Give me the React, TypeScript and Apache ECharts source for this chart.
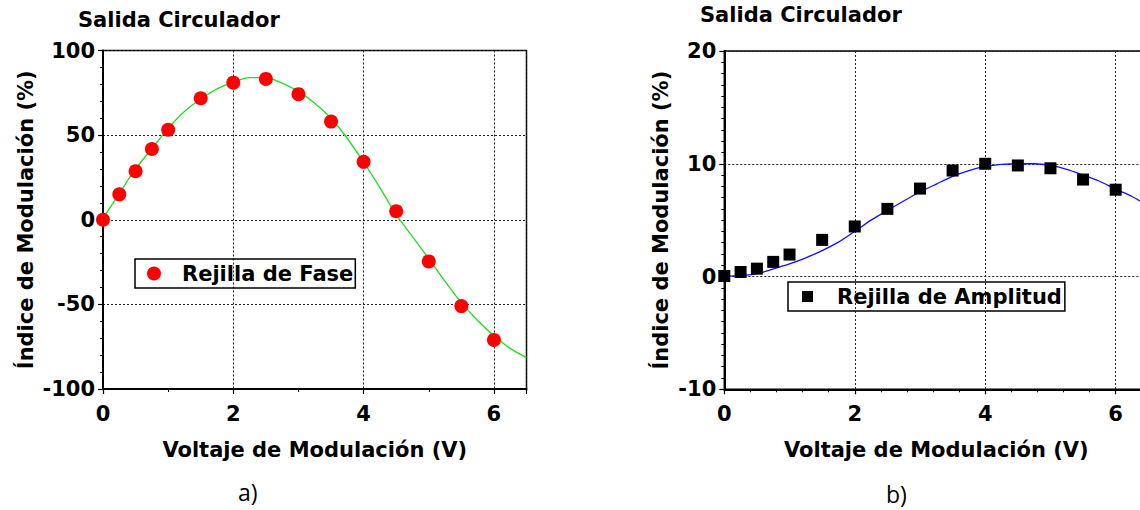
import { useEffect, useRef } from "react";
import * as echarts from "echarts";

// ---- data ----
const titleText = "Salida Circulador";
const xAxisName = "Voltaje de Modulación (V)";
const yAxisName = "Índice de Modulación (%)";
const phaseLegend = "Rejilla de Fase";
const ampLegend = "Rejilla de Amplitud";

// a) phase grating: measured points
const phaseVolt = [0, 0.25, 0.5, 0.75, 1, 1.5, 2, 2.5, 3, 3.5, 4, 4.5, 5, 5.5, 6];
const phaseIndex = [0, 15, 28.7, 41.8, 53.2, 71.8, 81, 83.2, 74.2, 58, 34.2, 5, -24.6, -51, -71];
// a) fitted curve (green)
const phaseFitVolt = [0, 0.25, 0.5, 0.75, 1, 1.25, 1.5, 1.75, 2, 2.25, 2.5, 2.75, 3, 3.25, 3.5, 3.75, 4, 4.25, 4.5, 4.75, 5, 5.25, 5.5, 5.75, 6, 6.25, 6.5];
const phaseFit = [0.8, 15.5, 30, 42, 54, 64, 71.3, 77.3, 81.3, 84, 84, 80.7, 75.7, 68.9, 60, 48, 34, 19, 3, -10, -23, -36.4, -49, -59.5, -68.5, -76, -81.5];

// b) amplitude grating: measured points
const ampVolt = [0, 0.25, 0.5, 0.75, 1, 1.5, 2, 2.5, 3, 3.5, 4, 4.5, 5, 5.5, 6];
const ampIndex = [0.05, 0.4, 0.7, 1.3, 1.95, 3.25, 4.44, 6.0, 7.8, 9.4, 10.0, 9.85, 9.6, 8.6, 7.7];
// b) fitted curve (blue)
const ampFitVolt = [0, 0.25, 0.5, 0.75, 1, 1.25, 1.5, 1.75, 2, 2.25, 2.5, 2.75, 3, 3.25, 3.5, 3.75, 4, 4.25, 4.5, 4.75, 5, 5.25, 5.5, 5.75, 6, 6.25, 6.4];
const ampFit = [0, 0.1, 0.24, 0.68, 1.12, 1.66, 2.3, 3.05, 4.0, 5.0, 5.86, 6.7, 7.5, 8.2, 8.88, 9.4, 9.76, 9.94, 10.0, 10.0, 9.85, 9.5, 9.0, 8.45, 7.75, 7.1, 6.6];

// axis ranges / ticks
const xRange = { min: 0, max: 6.5, interval: 2 };
const yRangeA = { min: -100, max: 100, interval: 50 };
const yRangeB = { min: -10, max: 20, interval: 10 };

const pairs = (xs: number[], ys: number[]) => xs.map((x, i) => [x, ys[i]]);

const FONT = "DejaVu Sans";
const boldText = { fontFamily: FONT, fontWeight: "bold" as const, fontSize: 21, color: "#000" };

function xAxisFor(gridIndex: number, minorSplit: number) {
  return {
    type: "value",
    gridIndex,
    min: xRange.min,
    max: xRange.max,
    interval: xRange.interval,
    name: xAxisName,
    nameLocation: "middle",
    nameGap: 50,
    nameTextStyle: { ...boldText },
    axisLine: { show: true, onZero: false, lineStyle: { color: "#000", width: 2 } },
    axisTick: { show: true, inside: false, length: 5, lineStyle: { color: "#000", width: 1.2 } },
    minorTick: { show: true, splitNumber: minorSplit, length: 3, lineStyle: { color: "#000", width: 1 } },
    axisLabel: { ...boldText, margin: 14, showMaxLabel: false },
    splitLine: { show: true, lineStyle: { color: "#222", width: 1, type: [2, 2] } },
  };
}

function yAxisFor(gridIndex: number, range: { min: number; max: number; interval: number }, minorSplit: number, nameGap: number) {
  return {
    type: "value",
    gridIndex,
    min: range.min,
    max: range.max,
    interval: range.interval,
    name: yAxisName,
    nameLocation: "middle",
    nameGap,
    nameTextStyle: { ...boldText },
    axisLine: { show: true, onZero: false, lineStyle: { color: "#000", width: 2 } },
    axisTick: { show: true, inside: false, length: 5, lineStyle: { color: "#000", width: 1.2 } },
    minorTick: { show: true, splitNumber: minorSplit, length: 3, lineStyle: { color: "#000", width: 1 } },
    axisLabel: { ...boldText, margin: 8 },
    splitLine: { show: true, lineStyle: { color: "#222", width: 1, type: [2, 2] } },
  };
}

export default function App() {
  const ref = useRef<HTMLDivElement>(null);
  useEffect(() => {
    if (!ref.current) return;
    const chart = echarts.init(ref.current, undefined, { renderer: "svg" });
    chart.setOption({
      animation: false,
      backgroundColor: "#fff",
      title: [
        { text: titleText, left: 78, top: 9, padding: 0, textStyle: { ...boldText } },
        { text: titleText, left: 700, top: 4, padding: 0, textStyle: { ...boldText } },
        { text: "a)", left: 238, top: 480, padding: 0, textStyle: { fontFamily: "Open Sans", fontWeight: "normal", fontSize: 23, color: "#000" } },
        { text: "b)", left: 886, top: 482, padding: 0, textStyle: { fontFamily: "Open Sans", fontWeight: "normal", fontSize: 23, color: "#000" } },
      ],
      grid: [
        { left: 103, top: 50.5, width: 423.5, height: 338.5, show: true, borderColor: "#000", borderWidth: 1.5, backgroundColor: "transparent" },
        { left: 724.3, top: 51, width: 424, height: 338.3, show: true, borderColor: "#000", borderWidth: 1.5, backgroundColor: "transparent" },
      ],
      xAxis: [xAxisFor(0, 2), xAxisFor(1, 5)],
      yAxis: [yAxisFor(0, yRangeA, 5, 67), yAxisFor(1, yRangeB, 10, 53)],
      legend: [
        {
          data: [phaseLegend],
          left: 135,
          top: 259,
          icon: "circle",
          itemWidth: 14,
          itemHeight: 14,
          padding: [4, 2, 4, 12],
          borderColor: "#000",
          borderWidth: 1.5,
          itemStyle: { opacity: 1 },
          textStyle: { ...boldText, padding: [0, 0, 0, 16] },
        },
        {
          data: [ampLegend],
          left: 788,
          top: 282,
          icon: "rect",
          itemWidth: 11,
          itemHeight: 11,
          padding: [4, 3, 4, 14],
          borderColor: "#000",
          borderWidth: 1.5,
          itemStyle: { opacity: 1 },
          textStyle: { ...boldText, padding: [0, 0, 0, 19] },
        },
      ],
      series: [
        {
          name: "fitA",
          type: "line",
          xAxisIndex: 0,
          yAxisIndex: 0,
          data: pairs(phaseFitVolt, phaseFit),
          showSymbol: false,
          smooth: 0.3,
          lineStyle: { color: "#1ee01e", width: 1.3 },
          z: 2,
        },
        {
          name: phaseLegend,
          type: "scatter",
          xAxisIndex: 0,
          yAxisIndex: 0,
          data: pairs(phaseVolt, phaseIndex),
          symbol: "circle",
          symbolSize: 14,
          itemStyle: { color: "#ff0000", opacity: 1 },
          z: 3,
        },
        {
          name: "fitB",
          type: "line",
          xAxisIndex: 1,
          yAxisIndex: 1,
          data: pairs(ampFitVolt, ampFit),
          showSymbol: false,
          smooth: 0.3,
          lineStyle: { color: "#1010ff", width: 1.3 },
          z: 2,
        },
        {
          name: ampLegend,
          type: "scatter",
          xAxisIndex: 1,
          yAxisIndex: 1,
          data: pairs(ampVolt, ampIndex),
          symbol: "rect",
          symbolSize: 12,
          itemStyle: { color: "#000", opacity: 1 },
          z: 3,
        },
      ],
    });
    return () => chart.dispose();
  }, []);
  return (
    <div style={{ position: "fixed", left: 0, top: 0, width: 1140, height: 510, overflow: "hidden", background: "#fff" }}>
      <div ref={ref} style={{ position: "absolute", left: 0, top: 0, width: 1170, height: 510 }} />
    </div>
  );
}
